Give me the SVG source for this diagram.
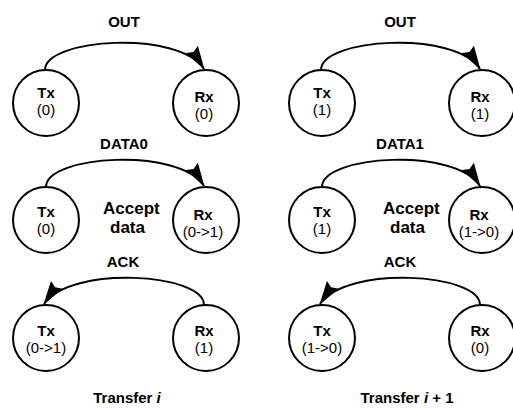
<svg xmlns="http://www.w3.org/2000/svg" width="513" height="408" viewBox="0 0 513 408">
<defs>
<marker id="ah" viewBox="0 0 24 14" refX="23" refY="7" markerWidth="24" markerHeight="14" markerUnits="userSpaceOnUse" orient="auto" overflow="visible">
<path d="M0,0 L24,7 L0,14 L3,7 Z" fill="#000"/>
</marker>
</defs>
<style>
.n{fill:#fff;stroke:#000;stroke-width:2}
.c{fill:none;stroke:#000;stroke-width:2;marker-end:url(#ah)}
text{font-family:"Liberation Sans",Arial,sans-serif;font-size:15px;fill:#000;text-anchor:middle}
.b{font-weight:bold}
.big{font-weight:bold;font-size:17px;text-anchor:start}
</style>
<rect width="513" height="408" fill="#fff"/>
<g id="labels">
<text class="b" x="124" y="27">OUT</text>
<text class="b" x="400" y="27">OUT</text>
<text class="b" x="124" y="149">DATA0</text>
<text class="b" x="400" y="149">DATA1</text>
<text class="b" x="123" y="267">ACK</text>
<text class="b" x="400" y="267">ACK</text>
<text class="big" x="103" y="214">Accept</text>
<text class="big" x="110" y="233">data</text>
<text class="big" x="383" y="214">Accept</text>
<text class="big" x="390" y="233">data</text>
<text class="b" x="127" y="403">Transfer <tspan font-style="italic">i</tspan></text>
<text class="b" x="407" y="403">Transfer <tspan font-style="italic">i</tspan> + 1</text>
</g>
<g id="tx1l"><circle class="n" cx="46" cy="103" r="33"/><text class="b" x="46" y="98">Tx</text><text x="46" y="115">(0)</text></g>
<g id="rx1l"><circle class="n" cx="206" cy="103" r="33"/><text class="b" x="204" y="102">Rx</text><text x="204" y="119">(0)</text></g>
<g id="tx2l"><circle class="n" cx="46" cy="220" r="33"/><text class="b" x="46" y="217">Tx</text><text x="46" y="234">(0)</text></g>
<g id="rx2l"><circle class="n" cx="206" cy="220" r="33"/><text class="b" x="203" y="220">Rx</text><text x="203" y="237">(0-&gt;1)</text></g>
<g id="tx3l"><circle class="n" cx="46" cy="338" r="33"/><text class="b" x="46" y="336">Tx</text><text x="46" y="353">(0-&gt;1)</text></g>
<g id="rx3l"><circle class="n" cx="206" cy="338" r="33"/><text class="b" x="204" y="336">Rx</text><text x="204" y="353">(1)</text></g>
<g id="tx1r"><circle class="n" cx="322" cy="103" r="33"/><text class="b" x="322" y="98">Tx</text><text x="322" y="115">(1)</text></g>
<g id="rx1r"><circle class="n" cx="482" cy="103" r="33"/><text class="b" x="480" y="102">Rx</text><text x="480" y="119">(1)</text></g>
<g id="tx2r"><circle class="n" cx="322" cy="220" r="33"/><text class="b" x="322" y="217">Tx</text><text x="322" y="234">(1)</text></g>
<g id="rx2r"><circle class="n" cx="482" cy="220" r="33"/><text class="b" x="479" y="220">Rx</text><text x="479" y="237">(1-&gt;0)</text></g>
<g id="tx3r"><circle class="n" cx="322" cy="338" r="33"/><text class="b" x="322" y="336">Tx</text><text x="322" y="353">(1-&gt;0)</text></g>
<g id="rx3r"><circle class="n" cx="482" cy="338" r="33"/><text class="b" x="480" y="336">Rx</text><text x="480" y="353">(0)</text></g>
<g id="connectors">
<path class="c" d="M45,70 C45,38 180,30 204,69"/>
<path class="c" d="M46,187 C46,155 180,147 204,186"/>
<path class="c" d="M204,305 C204,273 70,265 44,304"/>
<path class="c" d="M321,70 C321,38 456,30 480,69"/>
<path class="c" d="M322,187 C322,155 456,147 480,186"/>
<path class="c" d="M480,305 C480,273 346,265 320,304"/>
</g>
</svg>
